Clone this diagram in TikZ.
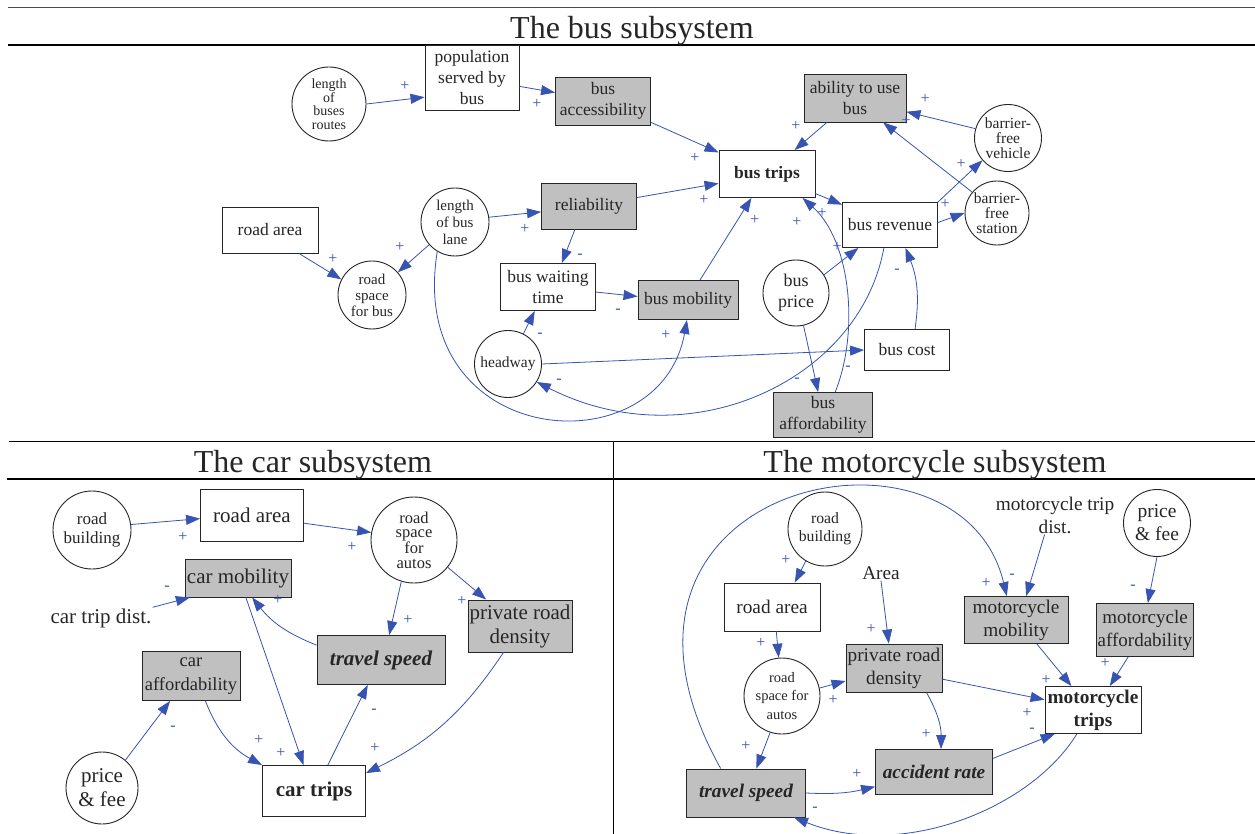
\documentclass[tikz,border=0pt]{standalone}
\usepackage{fontspec}
\setmainfont{Liberation Serif}
\usetikzlibrary{arrows.meta}
\definecolor{linkblue}{RGB}{55,84,178}
\definecolor{boxgray}{RGB}{192,192,192}
\begin{document}
\begin{tikzpicture}[x=1pt, y=-1pt,
  every node/.append style={text=black!85},
  box/.style={draw=black!85, line width=0.9pt, fill=white, align=center, inner sep=1pt, minimum width=95pt, minimum height=47pt},
  gbox/.style={box, fill=boxgray},
  circ/.style={draw=black!85, line width=0.9pt, circle, fill=white, align=center, inner sep=0pt},
  link/.style={draw=linkblue, line width=0.8pt, -{Triangle[length=14pt, width=10pt]}},
  sgn/.style={text=linkblue, inner sep=0pt, font=\fontsize{16}{16}\selectfont},
  ttl/.style={font=\fontsize{32}{32}\selectfont},
  fbus/.style={font=\fontsize{17.5}{21}\selectfont},
  fcar/.style={font=\fontsize{21}{24}\selectfont},
  fmoto/.style={font=\fontsize{19.3}{23}\selectfont}]

  \useasboundingbox (0,0) rectangle (1255,834);
  \fill[white] (0,0) rectangle (1255,834);

  % frame
  \draw[line width=0.8pt, black!70] (8,7) -- (1255,7);
  \draw[line width=1.3pt] (8,45) -- (1255,45);
  \draw[line width=0.8pt] (9,441) -- (1255,441);
  \draw[line width=1.3pt] (7,479) -- (1255,479);
  \draw[line width=0.8pt] (613,441) -- (613,834);

  \node[ttl] (ttlbus) at (632,31) {The bus subsystem};
  \node[ttl] (ttlcar) at (313,465) {The car subsystem};
  \node[ttl] (ttlmoto) at (935,465) {The motorcycle subsystem};

  % bus subsystem
  \node[circ, minimum size=74pt, font=\fontsize{14}{13.5}\selectfont] (lbr) at (329,104) {length\\of\\buses\\routes};
  \node[box, fbus, minimum width=94pt, minimum height=65pt] (pop) at (472,78) {population\\served by\\bus};
  \node[gbox, fbus, minimum height=48pt] (bacc) at (603,101) {bus\\accessibility};
  \node[gbox, fbus, minimum width=102pt, minimum height=48pt] (abus) at (855,98) {ability to use\\bus};
  \node[circ, minimum size=67pt, font=\fontsize{15.5}{15}\selectfont] (bfv) at (1008,138) {barrier-\\free\\vehicle};
  \node[circ, minimum size=64pt, font=\fontsize{15.5}{15}\selectfont] (bfs) at (997,213) {barrier-\\free\\station};
  \node[box, minimum width=96pt, font=\fontsize{17.5}{21}\selectfont\bfseries] (btrips) at (767,174) {bus trips};
  \node[box, fbus, minimum height=45pt] (brev) at (890,225) {bus revenue};
  \node[box, fbus, minimum width=96pt, minimum height=46pt] (broad) at (270,230) {road area};
  \node[circ, minimum size=68pt, font=\fontsize{15}{17}\selectfont] (lbl) at (455,222) {length\\of bus\\lane};
  \node[gbox, fbus, minimum height=46pt] (rel) at (589,206) {reliability};
  \node[circ, minimum size=68pt, font=\fontsize{15}{16}\selectfont] (rsb) at (372,295) {road\\space\\for bus};
  \node[box, fbus] (bwt) at (548,287) {bus waiting\\time};
  \node[gbox, fbus, minimum width=100pt, minimum height=39pt] (bmob) at (688,300) {bus mobility};
  \node[circ, minimum size=66pt, font=\fontsize{18}{21}\selectfont] (bprice) at (796,293) {bus\\price};
  \node[circ, minimum size=67pt, font=\fontsize{15.5}{16}\selectfont] (hw) at (508,364) {headway};
  \node[box, fbus, minimum width=85pt, minimum height=41pt] (bcost) at (907,350) {bus cost};
  \node[gbox, fbus, minimum width=99pt, minimum height=45pt] (baff) at (823,415) {bus\\affordability};

  \draw[link] (lbr.0) -- (pop.-158);
  \draw[link] (pop.-10) -- (bacc.170);
  \draw[link] (bacc.-24) -- (btrips.156);
  \draw[link] (abus.-139) -- (btrips.41);
  \draw[link] (bfv.164) -- (abus.-15);
  \draw[link] (bfs.140) -- (abus.-41);
  \draw[link] (brev.north east) -- (bfv.-139);
  \draw[link] (brev.3) -- (bfs.west);
  \draw[link] (btrips.-22) -- (brev.157);
  \draw[link] (rel.10) -- (btrips.-169);
  \draw[link] (bmob.59) -- (btrips.-123);
  \draw[link] (baff.62) .. controls (860,330) and (850,240) .. (btrips.-34);
  \draw[link] (lbl.8) -- (rel.-173);
  \draw[link] (lbl) -- (rsb);
  \draw[link] (broad.-39) -- (rsb.153);
  \draw[link] (rel.-121) -- (bwt.60);
  \draw[link] (bwt.-6) -- (bmob.176);
  \draw[link] (hw.63) -- (bwt.-119);
  \draw[link] (hw.east) -- (bcost.west);
  \draw[link] (bcost.69) to[bend right=15] (brev.-56);
  \draw[link] (brev.-105) .. controls (860,380) and (690,460) .. (hw.-32);
  \draw[link] (lbl.-121) .. controls (405,450) and (660,470) .. (bmob.-93);
  \draw[link] (bprice.33) -- (brev.-144);
  \draw[link] (bprice.-77) -- (baff.102);

  \node[sgn] (s1) at (405,86) {+};
  \node[sgn] (s2) at (537,104) {+};
  \node[sgn] (s3) at (695,158) {+};
  \node[sgn] (s4) at (796,126) {+};
  \node[sgn] (s5) at (925,99) {+};
  \node[sgn] (s6) at (906,121) {+};
  \node[sgn] (s7) at (961,164) {+};
  \node[sgn] (s8) at (945,204) {+};
  \node[sgn] (s9) at (822,213) {+};
  \node[sgn] (s10) at (797,222) {+};
  \node[sgn] (s11) at (704,200) {+};
  \node[sgn] (s12) at (755,220) {+};
  \node[sgn] (s13) at (837,247) {+};
  \node[sgn] (s14) at (525,229) {+};
  \node[sgn] (s15) at (400,247) {+};
  \node[sgn] (s16) at (333,259) {+};
  \node[sgn] (s17) at (580,256) {-};
  \node[sgn] (s18) at (618,311) {-};
  \node[sgn] (s19) at (540,335) {-};
  \node[sgn] (s20) at (559,381) {-};
  \node[sgn] (s21) at (666,335) {+};
  \node[sgn] (s22) at (897,271) {-};
  \node[sgn] (s23) at (797,380) {-};
  \node[sgn] (s24) at (848,368) {-};

  % car subsystem
  \node[circ, minimum size=78pt, font=\fontsize{17}{19}\selectfont] (crb) at (92,530) {road\\building};
  \node[box, fcar, minimum width=103pt, minimum height=52pt] (cra) at (252,515) {road area};
  \node[circ, minimum size=86pt, font=\fontsize{16.5}{14.3}\selectfont] (crsa) at (414,540) {road\\space\\for\\autos};
  \node[gbox, fcar, minimum width=106pt, minimum height=38pt] (cmob) at (238,578) {car mobility};
  \node[fcar, inner sep=1pt] (ctd) at (101,618) {car trip dist.};
  \node[gbox, fcar, minimum width=104pt, minimum height=52pt] (cprd) at (520,626) {private road\\density};
  \node[gbox, minimum width=128pt, minimum height=49pt, font=\fontsize{21}{24}\selectfont\bfseries\itshape] (cts) at (381,660) {travel speed};
  \node[gbox, minimum width=98pt, minimum height=49pt, font=\fontsize{18.5}{24}\selectfont] (caff) at (191,676) {car\\affordability};
  \node[circ, minimum size=72pt, font=\fontsize{21}{24}\selectfont] (cpf) at (102,788) {price\\\& fee};
  \node[box, minimum width=103pt, minimum height=51pt, font=\fontsize{21}{24}\selectfont\bfseries] (ctrips) at (314,791) {car trips};

  \draw[link] (crb.8) -- (cra.-176);
  \draw[link] (cra.-9) -- (crsa.170);
  \draw[link] (crsa.-107) -- (cts.72);
  \draw[link] (crsa.-39) -- (cprd.142);
  \draw[link] (ctd.north east) -- (cmob.-158);
  \draw[link] (cts.167) to[bend left=15] (cmob.-54);
  \draw[link] (cmob.-68) -- (ctrips.112);
  \draw[link] (caff.-60) to[bend right=20] (ctrips.north west);
  \draw[link] (cpf.50) -- (caff.-130);
  \draw[link] (ctrips.62) -- (cts.-118);
  \draw[link] (cprd.-122) to[bend left=15] (ctrips.19);

  \node[sgn] (c1) at (183,537) {+};
  \node[sgn] (c2) at (352,547) {+};
  \node[sgn] (c3) at (408,620) {+};
  \node[sgn] (c4) at (462,601) {+};
  \node[sgn] (c5) at (167,588) {-};
  \node[sgn] (c6) at (278,600) {+};
  \node[sgn] (c7) at (281,753) {+};
  \node[sgn] (c8) at (259,740) {+};
  \node[sgn] (c9) at (173,728) {-};
  \node[sgn] (c10) at (374,711) {-};
  \node[sgn] (c11) at (375,748) {+};

  % motorcycle subsystem
  \node[circ, minimum size=74pt, font=\fontsize{15.7}{17.7}\selectfont] (mrb) at (825,529) {road\\building};
  \node[box, fmoto, minimum width=96pt, minimum height=48pt] (mra) at (772,607) {road area};
  \node[fmoto, inner sep=1pt] (marea) at (881,573) {Area};
  \node[fmoto, inner sep=1pt, align=center] (mtd) at (1055,515) {motorcycle trip\\dist.};
  \node[circ, minimum size=67pt, font=\fontsize{19.5}{23}\selectfont] (mpf) at (1157,523) {price\\\& fee};
  \node[gbox, fmoto, minimum width=104pt, minimum height=47pt] (mmob) at (1016,620) {motorcycle\\mobility};
  \node[gbox, minimum width=96pt, minimum height=53pt, font=\fontsize{19}{23}\selectfont] (maff) at (1145,630) {motorcycle\\affordability};
  \node[circ, minimum size=76pt, font=\fontsize{14.5}{18.5}\selectfont] (mrsa) at (782,696) {road\\space for\\autos};
  \node[gbox, fmoto, minimum width=96pt, minimum height=48pt] (mprd) at (894,668) {private road\\density};
  \node[box, minimum width=96pt, minimum height=47pt, font=\fontsize{19.3}{23}\selectfont\bfseries] (mtrips) at (1093,710) {motorcycle\\trips};
  \node[gbox, minimum width=119pt, minimum height=48pt, font=\fontsize{19.3}{23}\selectfont\bfseries\itshape] (mts) at (746,793) {travel speed};
  \node[gbox, minimum width=117pt, minimum height=45pt, font=\fontsize{19.3}{23}\selectfont\bfseries\itshape] (mar) at (934,772) {accident rate};

  \draw[link] (mrb.-121) -- (mra.47);
  \draw[link] (mra.-80) -- (mrsa.95);
  \draw[link] (mrsa.12) -- (mprd.-165);
  \draw[link] (marea.south) -- (mprd.102);
  \draw[link] (mrsa.-108) -- (mts.67);
  \draw[link] (mts.136) .. controls (560,480) and (960,400) .. (mmob.111);
  \draw[link] (mtd.-118) -- (mmob.67);
  \draw[link] (mpf.south) -- (maff.84);
  \draw[link] (mmob.-49) -- (mtrips.132);
  \draw[link] (maff.-122) -- (mtrips.55);
  \draw[link] (mprd.-13) -- (mtrips.168);
  \draw[link] (mprd.-37) to[bend left=15] (mar.73);
  \draw[link] (mar.13) -- (mtrips.-148);
  \draw[link] (mts.east) to[bend right=8] (mar.-166);
  \draw[link] (mtrips.-124) .. controls (1030,810) and (900,860) .. (mts.-27);

  \node[sgn] (m1) at (786,560) {+};
  \node[sgn] (m2) at (761,643) {+};
  \node[sgn] (m3) at (833,700) {+};
  \node[sgn] (m4) at (871,629) {+};
  \node[sgn] (m5) at (746,746) {+};
  \node[sgn] (m6) at (986,583) {+};
  \node[sgn] (m7) at (1012,576) {-};
  \node[sgn] (m8) at (1133,587) {-};
  \node[sgn] (m9) at (1046,680) {+};
  \node[sgn] (m10) at (1105,663) {+};
  \node[sgn] (m11) at (1027,713) {+};
  \node[sgn] (m12) at (926,734) {+};
  \node[sgn] (m13) at (1032,730) {-};
  \node[sgn] (m14) at (857,774) {+};
  \node[sgn] (m15) at (815,809) {-};

\end{tikzpicture}
\end{document}
